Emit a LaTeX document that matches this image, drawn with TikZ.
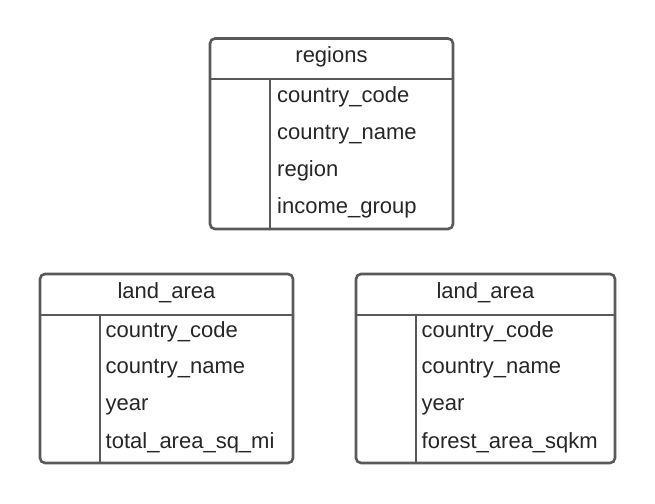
\documentclass[tikz,border=0pt]{standalone}
\usepackage{fontspec}
\setmainfont{Liberation Sans}
\usepackage{tikz}

\definecolor{linegray}{HTML}{595959}
\definecolor{textgray}{HTML}{262626}

\begin{document}
\begin{tikzpicture}[x=1pt,y=-1pt,
  every node/.style={font=\fontsize{22}{26}\selectfont,text=textgray},
  tablebox/.style={draw=linegray,line width=2.6pt,rounded corners=5pt,inner sep=0pt},
  rule/.style={draw=linegray,line width=2.6pt},
  field/.style={anchor=base west,inner sep=0pt},
  title/.style={anchor=base,inner sep=0pt}]
\useasboundingbox (0,0) rectangle (655,503);

% regions
\node[tablebox,minimum width=243pt,minimum height=190.5pt] (regions) at (331.5,133.75) {};
\node[title] (regionsT) at (331.5,63) {regions};
\draw[rule] (regions.west |- 0,79) -- (regions.east |- 0,79);
\draw[rule] (270,79) -- (270,0 |- regions.south);
\node[field] (r1) at (277,102.7) {country\_code};
\node[field] (r2) at (277,139.7) {country\_name};
\node[field] (r3) at (277,176.7) {region};
\node[field] (r4) at (277,213.3) {income\_group};

% land_area, left
\node[tablebox,minimum width=253pt,minimum height=189pt] (landA) at (166.5,368.5) {};
\node[title] (landAT) at (166.5,298) {land\_area};
\draw[rule] (landA.west |- 0,315) -- (landA.east |- 0,315);
\draw[rule] (100,315) -- (100,0 |- landA.south);
\node[field] (a1) at (105.5,337) {country\_code};
\node[field] (a2) at (105.5,373.5) {country\_name};
\node[field] (a3) at (105.5,410.5) {year};
\node[field] (a4) at (105.5,448) {total\_area\_sq\_mi};

% land_area, right
\node[tablebox,minimum width=259pt,minimum height=189pt] (landB) at (485.5,368.5) {};
\node[title] (landBT) at (485.5,298) {land\_area};
\draw[rule] (landB.west |- 0,315) -- (landB.east |- 0,315);
\draw[rule] (416,315) -- (416,0 |- landB.south);
\node[field] (b1) at (421.5,337) {country\_code};
\node[field] (b2) at (421.5,373.5) {country\_name};
\node[field] (b3) at (421.5,410.5) {year};
\node[field] (b4) at (421.5,448) {forest\_area\_sqkm};
\end{tikzpicture}
\end{document}
